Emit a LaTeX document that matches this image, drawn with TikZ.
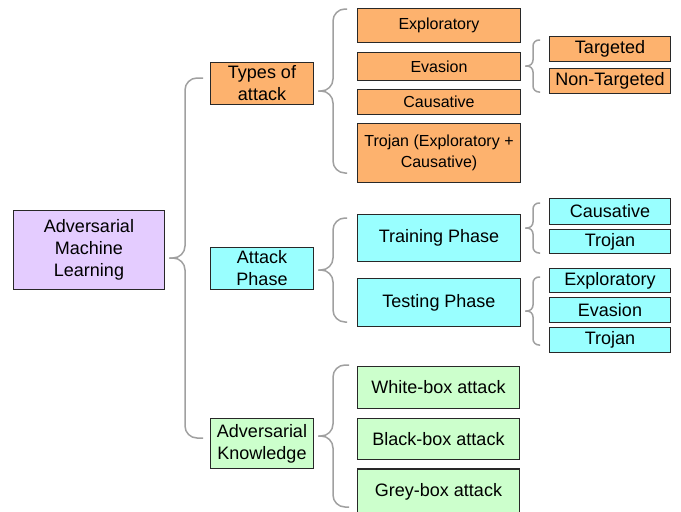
\documentclass[tikz,border=0pt]{standalone}
\usepackage{fontspec}
\setmainfont{Liberation Sans}
\usepackage{xcolor}
\definecolor{amlpurple}{RGB}{228,204,255}
\definecolor{amlorange}{RGB}{253,178,110}
\definecolor{amlcyan}{RGB}{153,255,255}
\definecolor{amlgreen}{RGB}{204,255,204}
\definecolor{amlgray}{RGB}{160,160,160}
\definecolor{amlborder}{RGB}{40,40,40}
\usepackage{tikz}
\usetikzlibrary{calc}

\tikzset{
  box/.style={draw=amlborder, line width=1.5pt, inner sep=1pt, align=center, font=\fontsize{18}{22}\selectfont},
  smallbox/.style={box, font=\fontsize{16}{21}\selectfont},
  brace/.style={draw=amlgray, line width=1.5pt},
}

% brace: parent node, vertical x, end x, top y, bottom y, corner radius
\newcommand{\groupbrace}[6]{%
  \pgfmathsetmacro{\bmid}{(#4+#5)/2}
  \path (#1.east |- 0,\bmid) ++(4,0) coordinate (#1-tip);
  \draw[brace, rounded corners=#6pt] (#3,#4) -- (#2,#4) -- (#2,\bmid) -- (#1-tip);
  \draw[brace, rounded corners=#6pt] (#3,#5) -- (#2,#5) -- (#2,\bmid) -- (#1-tip);
}

\begin{document}
\begin{tikzpicture}[x=1pt, y=-1pt]
  \useasboundingbox (0,0) rectangle (681,512);

  % Root
  \node[box, fill=amlpurple, minimum width=151pt, minimum height=79pt] (aml) at (89,250) {Adversarial\\Machine\\Learning};

  % --- Column 2 ---
  \node[box, fill=amlorange, minimum width=103pt, minimum height=42pt] (types) at (262,83.5) {Types of\\attack};
  \node[box, fill=amlcyan, minimum width=103pt, minimum height=42pt] (phase) at (262,268.5) {Attack\\Phase};
  \node[box, fill=amlgreen, minimum width=103pt, minimum height=50pt] (know) at (262,443.5) {Adversarial\\Knowledge};

  % --- Column 3 ---
  % Types of attack
  \node[smallbox, fill=amlorange, minimum width=163pt, minimum height=34pt] (exp) at (439,25.5) {Exploratory};
  \node[smallbox, fill=amlorange, minimum width=163pt, minimum height=28pt] (eva) at (439,66.5) {Evasion};
  \node[smallbox, fill=amlorange, minimum width=163pt, minimum height=25pt] (cau) at (439,102) {Causative};
  \node[smallbox, fill=amlorange, minimum width=163pt, minimum height=59pt] (tro) at (439,153) {Trojan (Exploratory +\\Causative)};
  % Attack phase
  \node[box, fill=amlcyan, minimum width=163pt, minimum height=47pt] (train) at (439,238) {Training Phase};
  \node[box, fill=amlcyan, minimum width=163pt, minimum height=48pt] (test) at (439,302.5) {Testing Phase};
  % Adversarial knowledge
  \node[box, fill=amlgreen, minimum width=162pt, minimum height=42pt] (white) at (438.5,387.5) {White-box attack};
  \node[box, fill=amlgreen, minimum width=162pt, minimum height=41pt] (black) at (438.5,439) {Black-box attack};
  \node[box, fill=amlgreen, minimum width=162pt, minimum height=46pt] (grey) at (438.5,492) {Grey-box attack};

  % --- Column 4 ---
  \node[box, fill=amlorange, minimum width=121pt, minimum height=25pt] (tgt) at (610,49) {Targeted};
  \node[box, fill=amlorange, minimum width=121pt, minimum height=25pt] (ntgt) at (610,81) {Non-Targeted};
  \node[box, fill=amlcyan, minimum width=121pt, minimum height=26pt] (trcau) at (610,211.5) {Causative};
  \node[box, fill=amlcyan, minimum width=121pt, minimum height=24pt] (trtro) at (610,241.5) {Trojan};
  \node[box, fill=amlcyan, minimum width=121pt, minimum height=24pt] (teexp) at (610,280.5) {Exploratory};
  \node[box, fill=amlcyan, minimum width=121pt, minimum height=25pt] (teeva) at (610,310) {Evasion};
  \node[box, fill=amlcyan, minimum width=121pt, minimum height=25pt] (tetro) at (610,340) {Trojan};

  % Braces
  \groupbrace{aml}{185}{203}{78}{438}{12}
  \groupbrace{types}{333}{347}{9}{173}{12}
  \groupbrace{phase}{333}{347}{218}{322}{12}
  \groupbrace{know}{333}{349}{365}{507}{12}
  \groupbrace{eva}{533}{540}{40}{92}{6}
  \groupbrace{train}{533}{540}{203}{253}{6}
  \groupbrace{test}{533}{540}{277}{345}{6}
\end{tikzpicture}
\end{document}
